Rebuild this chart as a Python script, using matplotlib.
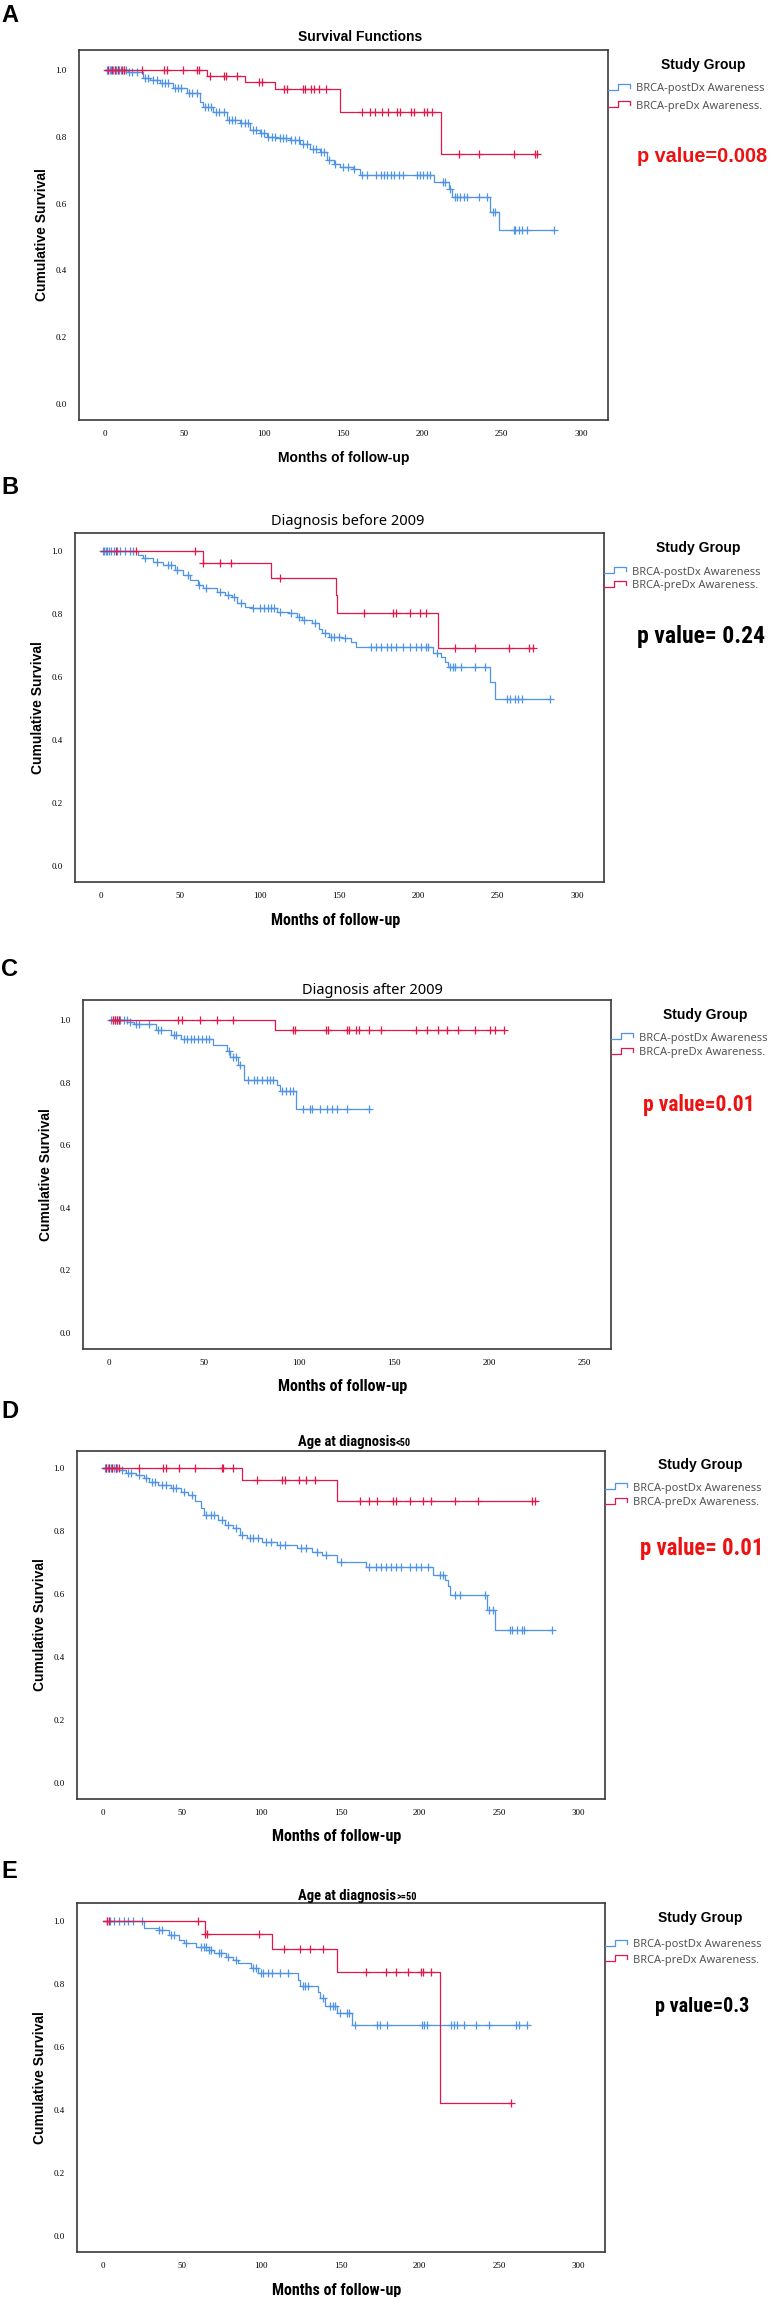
import numpy as np
import matplotlib
matplotlib.use("Agg")
import matplotlib.pyplot as plt
from matplotlib.lines import Line2D
from matplotlib import font_manager

W, H = 777, 2297
BLUE = "#4f94e6"
RED = "#e0194a"
PRED = "#ee1111"

# ---- data: event times, survival after each event, censor times ----
# A: all patients
a_post_t = [14.7, 24.2, 28.4, 34.7, 43, 51.5, 60, 62, 68.3, 76.7, 85, 91.4, 97.7, 102, 108,
            116.6, 123, 129, 135.6, 139.8, 144, 148, 156.6, 160.8, 207.6, 216.5, 218.6, 242.7, 248]
a_post_s = [0.995, 0.975, 0.97, 0.96, 0.945, 0.93, 0.905, 0.89, 0.875, 0.85, 0.84, 0.82, 0.81, 0.80,
            0.795, 0.79, 0.78, 0.765, 0.755, 0.73, 0.72, 0.71, 0.705, 0.685, 0.665, 0.645, 0.62, 0.575, 0.522]
a_post_c = [1, 2, 3, 4, 5, 6, 7, 8, 9, 10, 12, 13, 15, 17, 20, 25, 27, 30, 33, 36, 38, 40, 44, 46, 48,
            53, 55, 58, 63, 65, 67, 70, 72, 75, 78, 80, 82, 86, 88, 90, 93, 95, 98, 100, 103, 105, 107,
            110, 112, 114, 117, 120, 122, 125, 127, 131, 133, 136, 138, 141, 145, 150, 153, 157, 162,
            165, 171, 174, 176, 178, 180, 182, 185, 188, 196.5, 198.6, 200.7, 202.8, 205, 213, 214.4,
            217.5, 220.7, 221.7, 223.8, 226, 228, 235.4, 240.7, 244.8, 246, 257.5, 258.5, 260.6, 262.7,
            265.9, 282.7]
a_pre_t = [64, 88, 107, 148, 212]
a_pre_s = [0.982, 0.964, 0.943, 0.874, 0.75]
a_pre_c = [2.1, 4.2, 6.3, 8.4, 10.5, 12, 23, 37, 39, 49, 58, 59, 66, 75, 76, 83, 97, 99, 113, 114.5,
           125, 126, 130, 132, 135, 139, 162, 167, 170, 174.5, 178.6, 184, 186, 193, 195, 201, 203,
           206, 222.8, 236, 257.5, 271, 272.5]

# B: diagnosis before 2009
b_post_t = [23.4, 26.6, 32.8, 39, 46.9, 51.6, 56, 61, 64, 73.4, 78, 82.8, 86, 90.6, 95.3, 111, 118.7,
            123.4, 126.6, 132.8, 137.5, 139, 143.8, 151.6, 157.8, 161, 209.4, 214, 217, 218.4, 245, 248.4]
b_post_s = [0.987, 0.977, 0.966, 0.956, 0.94, 0.924, 0.908, 0.892, 0.881, 0.871, 0.86, 0.855, 0.834,
            0.823, 0.818, 0.807, 0.802, 0.79, 0.78, 0.77, 0.754, 0.739, 0.728, 0.723, 0.712, 0.696,
            0.675, 0.665, 0.649, 0.633, 0.585, 0.532]
b_post_c = [1, 2, 3, 4, 5, 6, 8, 10, 12, 15, 18, 20, 28, 35, 42, 44, 48, 55, 62, 66, 75, 80, 84, 88,
            96, 100, 103, 105, 107, 109, 113, 120, 125, 128, 135, 141, 145, 147, 150, 154, 170, 173,
            176.5, 180, 183, 186, 190.6, 195, 198.4, 201.6, 205, 206, 212, 220, 222, 223.4, 226.6,
            236, 242, 256, 258, 261, 262.5, 265.6, 282.8]
b_pre_t = [64, 107, 148, 149, 212.5]
b_pre_s = [0.961, 0.913, 0.86, 0.804, 0.691]
b_pre_c = [9.4, 21.9, 59.4, 64, 75, 82, 112.5, 165.6, 184, 186, 194.7, 201, 205, 222.8, 236, 257,
           270, 272]

# C: diagnosis after 2009
c_post_t = [11, 13, 24.7, 32.6, 37.8, 54.7, 62, 63.8, 67.7, 70.8, 88.5, 89.8, 98.4]
c_post_s = [0.994, 0.988, 0.967, 0.951, 0.94, 0.919, 0.901, 0.882, 0.855, 0.81, 0.791, 0.773, 0.717]
c_post_c = [1, 2, 3, 4, 5, 6, 8, 9.5, 11, 14.3, 15.6, 20.8, 25.5, 27.3, 33.9, 35, 39.6, 41, 43, 44.8,
            47, 49, 50.8, 52.6, 63, 65, 67, 69, 73, 76, 78, 80.7, 83, 84.6, 86, 91, 93, 95, 97, 102,
            105.5, 107, 110.7, 114.6, 117, 120, 125, 136.7]
c_pre_t = [87.2]
c_pre_s = [0.967]
c_pre_c = [2, 3, 4, 5, 36.5, 38.5, 48, 57, 65, 97, 98, 114, 115, 125, 126, 130, 131.5, 136.7, 143,
           161.5, 167, 173, 178, 183.6, 192.7, 200.5, 203, 207.8]

# D: age at diagnosis < 50
d_post_t = [10, 14.7, 21, 25.6, 28.8, 35, 42.8, 49, 53.75, 58.4, 61.6, 63.75, 72.5, 77, 82, 86.6, 91,
            100.6, 110, 122.5, 132, 138, 147.5, 166, 208.4, 216, 217.8, 219.4, 242.8, 247.5]
d_post_s = [0.994, 0.985, 0.978, 0.967, 0.957, 0.946, 0.935, 0.925, 0.914, 0.896, 0.872, 0.851, 0.835,
            0.819, 0.808, 0.787, 0.777, 0.766, 0.756, 0.745, 0.734, 0.724, 0.703, 0.687, 0.66, 0.644,
            0.625, 0.597, 0.549, 0.486]
d_post_c = [1, 2, 3, 4, 5, 6, 7, 8, 9, 12, 16, 18, 23, 27, 31, 33, 37, 40, 44, 46, 51, 56, 65, 68, 70,
            75, 79, 84, 88, 93, 95, 98, 103, 106, 112, 115, 125, 128, 135, 141, 150, 168, 172.5, 175.6,
            178.8, 182, 185, 188, 194, 197.5, 200.6, 205, 213, 214.7, 222.5, 225.6, 241, 244, 246, 257,
            258, 261.6, 264.7, 266, 283.4]
d_pre_t = [87.5, 147.5]
d_pre_s = [0.962, 0.896]
d_pre_c = [2, 4, 6, 8, 10, 22.5, 38, 39.7, 48, 57.8, 75, 76, 82, 97, 113, 114.7, 124, 128, 134, 162.5,
           168, 173, 183.4, 185, 194, 202, 207, 222.5, 236.5, 271, 272.5]

# E: age at diagnosis >= 50
e_post_t = [26, 35.4, 41.7, 48, 51, 58.9, 66.7, 69.8, 77.7, 82.4, 85.5, 93.3, 98, 123, 124.7, 135.6,
            137.2, 140.3, 148, 157.5]
e_post_s = [0.977, 0.971, 0.956, 0.94, 0.929, 0.918, 0.908, 0.897, 0.887, 0.876, 0.866, 0.85, 0.834,
            0.813, 0.792, 0.776, 0.754, 0.731, 0.707, 0.67]
e_post_c = [2.5, 4.7, 7.2, 10.3, 13.5, 16, 19, 24.4, 35.4, 37, 43, 44.8, 52.6, 62, 63.6, 65, 66.7, 68,
            73, 74.5, 79, 84, 95, 96.5, 99.6, 101, 104, 106.8, 112, 116.8, 126, 127.8, 129.4, 138.7,
            143.4, 145, 146.6, 149.7, 154, 155.6, 159, 173, 174.8, 179.5, 201.4, 203, 204.5, 220,
            221.7, 223.3, 228, 235.8, 243.7, 261, 262.5, 267.8]
e_pre_t = [64.5, 106.8, 148, 213]
e_pre_s = [0.959, 0.91, 0.839, 0.423]
e_pre_c = [2.5, 4, 59.8, 64.5, 66, 98.7, 114, 124.6, 131, 138.7, 166, 178.8, 185, 192.6, 200.8, 202,
           207, 257.8]

letters = ["A", "B", "C", "D", "E"]
titles = ["Survival Functions", "Diagnosis before 2009", "Diagnosis after 2009",
          "Age at diagnosis", "Age at diagnosis"]
title_suffix = ["", "", "", "<50", ">=50"]
p_texts = ["p value=0.008", "p value= 0.24", "p value=0.01", "p value= 0.01", "p value=0.3"]
p_colors = [PRED, "black", PRED, PRED, "black"]
legend_labels = ["BRCA-postDx Awareness", "BRCA-preDx Awareness."]
x_ticks = [[0, 50, 100, 150, 200, 250, 300]] * 2 + [[0, 50, 100, 150, 200, 250]] + \
          [[0, 50, 100, 150, 200, 250, 300]] * 2
y_ticks = [0.0, 0.2, 0.4, 0.6, 0.8, 1.0]

curves = [
    (a_post_t, a_post_s, a_post_c, a_pre_t, a_pre_s, a_pre_c),
    (b_post_t, b_post_s, b_post_c, b_pre_t, b_pre_s, b_pre_c),
    (c_post_t, c_post_s, c_post_c, c_pre_t, c_pre_s, c_pre_c),
    (d_post_t, d_post_s, d_post_c, d_pre_t, d_pre_s, d_pre_c),
    (e_post_t, e_post_s, e_post_c, e_pre_t, e_pre_s, e_pre_c),
]

# ---- layout (pixels) ----
# left, right, top, bottom of each axes box
boxes = [(79, 608, 50, 420), (75, 604, 533, 882), (83, 611, 1000, 1349),
         (77, 605, 1451, 1799), (77, 605, 1903, 2252)]
xlims = [(-16.4, 317), (-16.4, 317), (-13.7, 264), (-16.4, 317), (-16.4, 317)]
ylims = [(-0.048, 1.06), (-0.05, 1.057), (-0.051, 1.064), (-0.051, 1.054), (-0.051, 1.057)]
letter_y = [15, 487, 970, 1412, 1872]
title_y = [37, 522, 990, 1441, 1895]
title_x = [360, 348, 372, 396, 396]
sg_pos = [(703, 65), (698, 548), (705, 1015), (700, 1465), (700, 1918)]
entry_y = [(89, 106), (572, 586), (1038, 1053), (1488, 1503), (1945, 1960)]
p_pos = [(637, 157), (637, 637), (643, 1105), (640, 1548), (655, 2006)]
p_size = [14.3, 17, 15.5, 16.4, 14.5]

SANS = ["Liberation Sans", "DejaVu Sans"]

# condensed bold face: use a narrow family when one is installed,
# otherwise shrink Liberation Sans so the widths stay close
_names = {f.name for f in font_manager.fontManager.ttflist}
NARROW = SANS
NARROW_SCALE = 0.84
for cand in ["Liberation Sans Narrow", "Arial Narrow", "Roboto Condensed", "Open Sans Condensed"]:
    if cand in _names:
        NARROW = [cand, "DejaVu Sans"]
        NARROW_SCALE = 1.0
        break


def fx(x):
    return x / W


def fy(y):
    return 1 - y / H


def ntext(x, y, s, size, **kw):
    return fig.text(fx(x), fy(y), s, fontsize=size * NARROW_SCALE, fontweight="bold",
                    family=NARROW, **kw)


def km(ax, times, surv, cens, color):
    end = max(max(cens), times[-1])
    xs = [0] + list(times) + [end]
    ys = [1.0] + list(surv) + [surv[-1]]
    ax.step(xs, ys, where="post", color=color, lw=0.9)
    levels = np.array([1.0] + list(surv))
    idx = np.searchsorted(np.array(times), np.array(cens), side="right")
    ax.plot(cens, levels[idx], ls="none", marker="+", ms=6, mew=0.9, color=color)


fig = plt.figure(figsize=(W / 100, H / 100), dpi=100)

for i in range(5):
    l, r, t, b = boxes[i]
    ax = fig.add_axes([fx(l), fy(b), (r - l) / W, (b - t) / H])
    pt, ps, pc, rt, rs, rc = curves[i]
    km(ax, pt, ps, pc, BLUE)
    km(ax, rt, rs, rc, RED)
    ax.set_xlim(*xlims[i])
    ax.set_ylim(*ylims[i])
    ax.set_xticks(x_ticks[i])
    ax.set_yticks(y_ticks)
    ax.set_yticklabels(["%.1f" % v for v in y_ticks])
    ax.tick_params(length=0, labelsize=6.5, pad=7)
    ax.tick_params(axis="y", pad=9)
    for lab in ax.get_xticklabels() + ax.get_yticklabels():
        lab.set_family("Liberation Serif")
    for sp in ax.spines.values():
        sp.set_color("#3a3a3a")
        sp.set_linewidth(1.2)

    # panel letter
    fig.text(fx(1), fy(letter_y[i]), letters[i], fontsize=17, fontweight="bold",
             family=SANS, va="center", ha="left")

    # title
    if i == 0:
        fig.text(fx(title_x[i]), fy(title_y[i]), titles[i], fontsize=10, fontweight="bold",
                 family=SANS, ha="center", va="center")
    elif i in (1, 2):
        fig.text(fx(title_x[i]), fy(title_y[i]), titles[i], fontsize=10.5,
                 family=["Noto Sans", "DejaVu Sans"], ha="center", va="center")
    else:
        ntext(title_x[i], title_y[i] + 5, titles[i], 10.5, ha="right", va="baseline")
        ntext(title_x[i], title_y[i] + 5, title_suffix[i], 7.5, ha="left", va="baseline")

    # axis labels
    xc = (l + r) / 2
    if i == 0:
        fig.text(fx(xc), fy(b + 38), "Months of follow-up", fontsize=10, fontweight="bold",
                 family=SANS, ha="center", va="center")
    else:
        ntext(xc - 4, b + 38, "Months of follow-up", 11.5, ha="center", va="center")
    fig.text(fx(l - 37), fy((t + b) / 2), "Cumulative Survival", fontsize=10, fontweight="bold",
             family=SANS, rotation=90, ha="center", va="center")

    # legend
    fig.text(fx(sg_pos[i][0]), fy(sg_pos[i][1]), "Study Group", fontsize=10, fontweight="bold",
             family=SANS, ha="center", va="center")
    for yc, col, lab in zip(entry_y[i], [BLUE, RED], legend_labels):
        gx = [r, r + 10, r + 10, r + 22, r + 22]
        gy = [yc + 1, yc + 1, yc - 5, yc - 5, yc - 1]
        fig.add_artist(Line2D([fx(v) for v in gx], [fy(v) for v in gy], color=col, lw=0.9,
                              transform=fig.transFigure))
        fig.text(fx(r + 28), fy(yc), lab, fontsize=8, color="#555555",
                 family=["Noto Sans", "DejaVu Sans"], ha="left", va="center")

    # p value
    if i == 0:
        fig.text(fx(p_pos[i][0]), fy(p_pos[i][1]), p_texts[i], fontsize=p_size[i],
                 fontweight="bold", color=p_colors[i], family=SANS, ha="left", va="center")
    else:
        ntext(p_pos[i][0], p_pos[i][1], p_texts[i], p_size[i], color=p_colors[i],
              ha="left", va="center")

fig.savefig("out.png", dpi=100)
